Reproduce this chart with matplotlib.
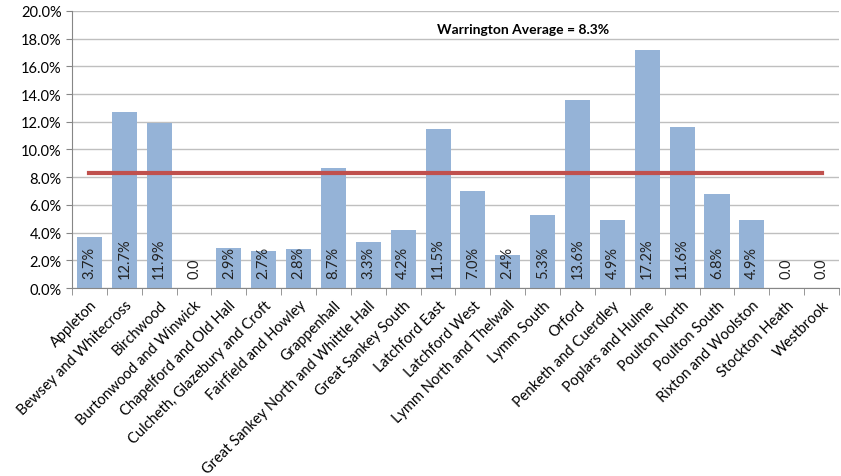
import numpy as np
import matplotlib.pyplot as plt
from matplotlib.ticker import FuncFormatter

plt.rcParams['font.family'] = ['Lato', 'DejaVu Sans']

wards = ['Appleton', 'Bewsey and Whitecross', 'Birchwood', 'Burtonwood and Winwick',
         'Chapelford and Old Hall', 'Culcheth, Glazebury and Croft', 'Fairfield and Howley',
         'Grappenhall', 'Great Sankey North and Whittle Hall', 'Great Sankey South',
         'Latchford East', 'Latchford West', 'Lymm North and Thelwall', 'Lymm South',
         'Orford', 'Penketh and Cuerdley', 'Poplars and Hulme', 'Poulton North',
         'Poulton South', 'Rixton and Woolston', 'Stockton Heath', 'Westbrook']
values = [3.7, 12.7, 11.9, 0.0, 2.9, 2.7, 2.8, 8.7, 3.3, 4.2, 11.5,
          7.0, 2.4, 5.3, 13.6, 4.9, 17.2, 11.6, 6.8, 4.9, 0.0, 0.0]
average = 8.3

x = np.arange(len(wards))

fig = plt.figure(figsize=(8.41, 4.77), dpi=100)
ax = fig.add_axes([0.0856, 0.394, 0.912, 0.581])

ax.bar(x, values, width=0.72, color='#95B3D7', zorder=2)
ax.plot(x, [average]*len(x), color='#C0504D', lw=3, zorder=3)

# data labels, rotated inside the bars
for xi, v in zip(x, values):
    lab = '0.0' if v == 0 else f'{v:.1f}%'
    ax.text(xi, 0.75, lab, rotation=90, ha='center', va='bottom',
            fontsize=10.5, color='#222222', zorder=4)

ax.text(0.476, 0.935, 'Warrington Average = 8.3%', transform=ax.transAxes,
        fontsize=10, fontweight='bold', ha='left', va='center')

ax.set_xlim(-0.5, len(wards) - 0.5)
ax.set_ylim(0, 20)
ax.set_yticks(np.arange(0, 21, 2))
ax.yaxis.set_major_formatter(FuncFormatter(lambda v, p: f'{v:.1f}%'))
ax.yaxis.grid(True, color='#BFBFBF', lw=1, zorder=0)
ax.set_axisbelow(True)

ax.set_xticks(x)
ax.set_xticklabels(wards, rotation=45, ha='right', rotation_mode='anchor', fontsize=10.5)
ax.set_xticks(np.arange(-0.5, len(wards)), minor=True)
ax.tick_params(axis='x', which='major', length=0, pad=7)
ax.tick_params(axis='x', which='minor', length=5, color='#868686')
ax.tick_params(axis='y', length=4, color='#868686', labelsize=10.5)

for s in ['top', 'right']:
    ax.spines[s].set_visible(False)
ax.spines['left'].set_color('#868686')
ax.spines['bottom'].set_color('#868686')

fig.savefig('out.png', dpi=100)
